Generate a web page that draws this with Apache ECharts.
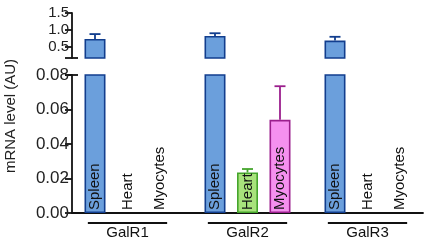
<!DOCTYPE html>
<html><head><meta charset="utf-8">
<script src="https://cdn.jsdelivr.net/npm/echarts@6/dist/echarts.min.js"></script>
<style>html,body{margin:0;padding:0;background:#fff}#c{width:429px;height:242px}</style>
</head><body><div id="c"></div>
<script>
// ---- data ----
const groups = ['GalR1', 'GalR2', 'GalR3'];
const tissues = ['Spleen', 'Heart', 'Myocytes'];
const spleen = [0.735, 0.825, 0.69];
const spleenErr = [0.145, 0.08, 0.11];
const heart = [0, 0.0235, 0];
const heartErr = [0, 0.002, 0];
const myocytes = [0, 0.054, 0];
const myocytesErr = [0, 0.0195, 0];
const topTicks = [0.5, 1.0, 1.5];
const bottomTicks = [0, 0.02, 0.04, 0.06, 0.08];

// ---- layout / style ----
const values = [spleen, heart, myocytes];
const errors = [spleenErr, heartErr, myocytesErr];
const fills = ['#6b9fdc', '#a8e27c', '#f590ef'];
const strokes = ['#123e8e', '#45a52c', '#9b1f8d'];
const FONT = '"Liberation Sans", Arial, sans-serif';
const SLOT = 32.5;                 // px per tissue slot
const GROUP_STEP = 120 / SLOT;     // group spacing in slot units
const GRID_LEFT = 72, GRID_W = 351;
const FIRST_CENTER = 95;
const X_MIN = -(FIRST_CENTER - GRID_LEFT) / SLOT;
const X_MAX = X_MIN + GRID_W / SLOT;
const TOP_MIN = 0.1765, TOP_MAX = 1.5;
const BOT_MIN = 0, BOT_MAX = 0.08;
const pos = (g, c) => g * GROUP_STEP + c;

const barData = [], errData = [], labelData = [];
groups.forEach((g, gi) => {
  tissues.forEach((t, ti) => {
    const v = values[ti][gi];
    barData.push({
      value: [pos(gi, ti), v > 0 ? v : '-'],
      itemStyle: { color: fills[ti], borderColor: strokes[ti], borderWidth: 1.6 }
    });
    errData.push([pos(gi, ti), v, v + errors[ti][gi], ti]);
    labelData.push([pos(gi, ti), 0, t]);
  });
});

function errRender(params, api) {
  const x = api.value(0), lo = api.value(1), hi = api.value(2), ti = api.value(3);
  if (hi <= lo) return null;
  const cs = params.coordSys;
  const p0 = api.coord([x, lo]), p1 = api.coord([x, hi]);
  if (p1[1] < cs.y - 0.5 || p0[1] > cs.y + cs.height + 0.5) return null;
  const st = { stroke: strokes[ti], lineWidth: 1.8 };
  return { type: 'group', children: [
    { type: 'line', shape: { x1: p0[0], y1: p0[1], x2: p1[0], y2: p1[1] }, style: st },
    { type: 'line', shape: { x1: p1[0] - 5.5, y1: p1[1], x2: p1[0] + 5.5, y2: p1[1] }, style: st }
  ]};
}

const chart = echarts.init(document.getElementById('c'), null, { renderer: 'canvas' });
const axisLine = { show: true, onZero: false, lineStyle: { color: '#111', width: 1.8 } };
const option = {
  animation: false,
  backgroundColor: '#fff',
  grid: [
    { left: GRID_LEFT, top: 13, width: GRID_W, height: 45 },
    { left: GRID_LEFT, top: 75, width: GRID_W, height: 138 }
  ],
  xAxis: [
    { type: 'value', gridIndex: 0, min: X_MIN, max: X_MAX, show: false },
    { type: 'value', gridIndex: 1, min: X_MIN, max: X_MAX, position: 'bottom',
      axisLine: axisLine, axisTick: { show: false }, axisLabel: { show: false }, splitLine: { show: false } }
  ],
  yAxis: [
    { type: 'value', gridIndex: 0, min: TOP_MIN, max: TOP_MAX,
      axisLine: axisLine,
      axisTick: { show: true, length: 7, customValues: topTicks, lineStyle: { color: '#111', width: 1.8 } },
      axisLabel: { customValues: topTicks, margin: 3, color: '#222', fontSize: 15, fontFamily: FONT,
        formatter: v => v.toFixed(1) },
      splitLine: { show: false } },
    { type: 'value', gridIndex: 1, min: BOT_MIN, max: BOT_MAX,
      axisLine: axisLine,
      axisTick: { show: true, length: 7, customValues: bottomTicks, lineStyle: { color: '#111', width: 1.8 } },
      axisLabel: { customValues: bottomTicks, margin: 3, color: '#222', fontSize: 17, fontFamily: FONT,
        formatter: v => v.toFixed(2) },
      splitLine: { show: false } }
  ],
  series: [
    { type: 'bar', xAxisIndex: 0, yAxisIndex: 0, data: barData, barWidth: 21, clip: true },
    { type: 'bar', xAxisIndex: 1, yAxisIndex: 1, data: barData, barWidth: 21, clip: true },
    { type: 'custom', xAxisIndex: 0, yAxisIndex: 0, data: errData, renderItem: errRender, z: 5 },
    { type: 'custom', xAxisIndex: 1, yAxisIndex: 1, data: errData, renderItem: errRender, z: 5 },
    { type: 'custom', xAxisIndex: 1, yAxisIndex: 1, data: labelData, z: 6,
      renderItem: (params, api) => {
        const p = api.coord([api.value(0), 0]);
        return { type: 'text', x: p[0], y: p[1] - 3, rotation: Math.PI / 2,
          style: { text: labelData[params.dataIndex][2], font: '15px ' + FONT, fill: '#111',
            align: 'left', verticalAlign: 'middle' } };
      } },
    { type: 'custom', xAxisIndex: 1, yAxisIndex: 1, data: groups.map((g, i) => [i]), z: 6,
      renderItem: (params, api) => {
        const gi = api.value(0);
        const a = api.coord([pos(gi, 0) - 0.22, 0]);
        const b = api.coord([pos(gi, 2) + 0.22, 0]);
        return { type: 'group', children: [
          { type: 'line', shape: { x1: a[0], y1: a[1] + 10, x2: b[0], y2: b[1] + 10 },
            style: { stroke: '#111', lineWidth: 1.8 } },
          { type: 'text', x: (a[0] + b[0]) / 2, y: a[1] + 20,
            style: { text: groups[gi], font: '15px ' + FONT, fill: '#111', align: 'center', verticalAlign: 'middle' } }
        ]};
      } }
  ],
  graphic: [
    { type: 'text', x: 11, y: 116, rotation: Math.PI / 2,
      style: { text: 'mRNA level (AU)', font: '15px ' + FONT, fill: '#222', align: 'center', verticalAlign: 'middle' } }
  ]
};
chart.setOption(option);

// break caps at the split ends of the y axis
const pTop = chart.convertToPixel({ xAxisIndex: 0, yAxisIndex: 0 }, [X_MIN, TOP_MIN]);
const pBot = chart.convertToPixel({ xAxisIndex: 1, yAxisIndex: 1 }, [X_MIN, BOT_MAX]);
chart.setOption({ graphic: [
  option.graphic[0],
  { type: 'line', shape: { x1: pTop[0] - 7, y1: pTop[1], x2: pTop[0] + 6, y2: pTop[1] }, style: { stroke: '#111', lineWidth: 1.8 } },
  { type: 'line', shape: { x1: pBot[0] - 7, y1: pBot[1], x2: pBot[0] + 6, y2: pBot[1] }, style: { stroke: '#111', lineWidth: 1.8 } }
]});
</script></body></html>
